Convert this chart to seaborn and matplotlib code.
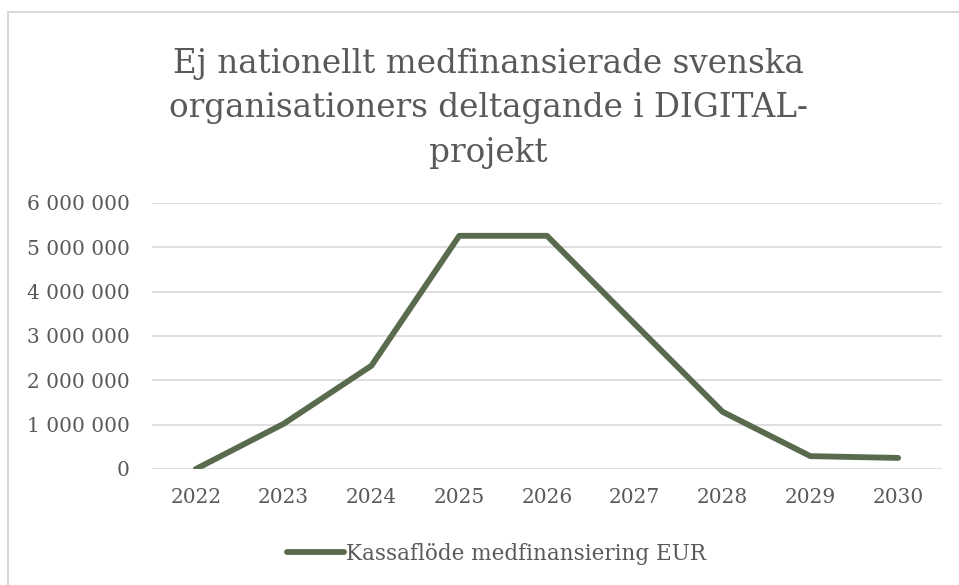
import pandas as pd
import matplotlib.pyplot as plt
import seaborn as sns
from matplotlib.ticker import FuncFormatter
from matplotlib.patches import Rectangle

# Data
years = ["2022", "2023", "2024", "2025", "2026", "2027", "2028", "2029", "2030"]
kassaflode = [0, 1020000, 2330000, 5260000, 5260000, 3270000, 1290000, 290000, 250000]
series_name = "Kassaflöde medfinansiering EUR"
title = "Ej nationellt medfinansierade svenska\norganisationers deltagande i DIGITAL-\nprojekt"

df = pd.DataFrame({"År": years, "Värde": kassaflode})

sns.set_style("white")
plt.rcParams["font.family"] = ["DejaVu Serif"]

text_color = "#595959"
line_color = "#596b4e"
grid_color = "#d9d9d9"

fig = plt.figure(figsize=(9.59, 5.85), dpi=100)
ax = fig.add_axes([0.1585, 0.1983, 0.8238, 0.4547])

# Chart border
fig.patches.append(Rectangle((8 / 959, -0.05), 1.1, 1 - 12 / 585 + 0.05,
                             transform=fig.transFigure, fill=False,
                             edgecolor="#d9d9d9", linewidth=1.5))

sns.lineplot(data=df, x="År", y="Värde", ax=ax, color=line_color,
             linewidth=4.2, label=series_name, sort=False)

ax.set_ylim(0, 6000000)
ax.set_xlim(-0.5, len(years) - 0.5)
ax.set_yticks(range(0, 6000001, 1000000))
ax.yaxis.set_major_formatter(FuncFormatter(lambda v, p: f"{int(v):,}".replace(",", " ")))
ax.grid(axis="y", color=grid_color, linewidth=1.2)
ax.set_axisbelow(True)
for s in ax.spines.values():
    s.set_visible(False)
ax.tick_params(axis="both", length=0, labelsize=14.5, colors=text_color)
ax.tick_params(axis="y", pad=16)
ax.tick_params(axis="x", pad=14)
ax.set_xlabel("")
ax.set_ylabel("")

ax.get_legend().remove()
fig.text(0.509, 0.815, title, ha="center", va="center", fontsize=23.5,
         color=text_color, linespacing=1.5)

handles, labels = ax.get_legend_handles_labels()
fig.legend(handles, labels, loc="center", bbox_to_anchor=(0.518, 0.053),
           frameon=False, fontsize=15.5, handlelength=2.65, handletextpad=0.1,
           labelcolor=text_color)

fig.savefig("out.png", dpi=100)
